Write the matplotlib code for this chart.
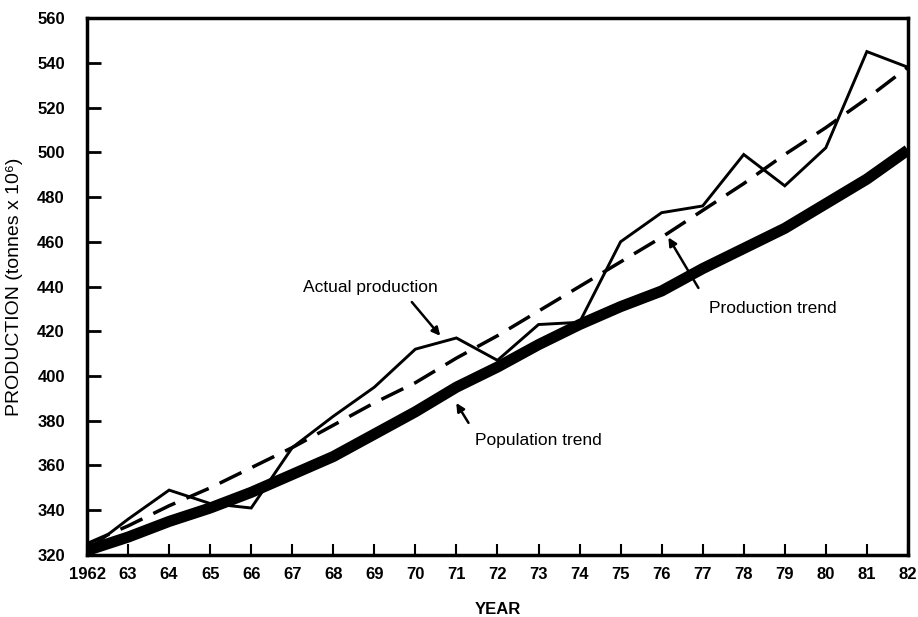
import matplotlib
matplotlib.use("Agg")
import matplotlib.pyplot as plt

plt.rcParams['font.family'] = ['Liberation Sans', 'DejaVu Sans']

years = list(range(1962, 1983))
year_labels = ["1962"] + [str(y)[2:] for y in years[1:]]

actual = [322, 336, 349, 343, 341, 368, 382, 395, 412, 417, 407,
          423, 424, 460, 473, 476, 499, 485, 502, 545, 538]
prod_trend = [325, 333, 342, 350, 359, 368, 378, 388, 397, 408, 418,
              429, 440, 451, 462, 474, 486, 499, 511, 524, 538]
pop_trend = [322, 328, 335, 341, 348, 356, 364, 374, 384, 395, 404,
             414, 423, 431, 438, 448, 457, 466, 477, 488, 501]

y_ticks = list(range(320, 561, 20))

fig = plt.figure(figsize=(9.18, 6.17), dpi=100)
ax = fig.add_axes([0.0948, 0.1005, 0.8942, 0.8703])

ax.plot(years, pop_trend, color='black', lw=8, solid_capstyle='butt', solid_joinstyle='round')
ax.plot(years, prod_trend, color='black', lw=2.5, dashes=(7, 3.5))
ax.plot(years, actual, color='black', lw=2.1, solid_joinstyle='miter')

ax.set_xlim(1962, 1982)
ax.set_ylim(320, 560)
ax.set_xticks(years)
ax.set_xticklabels(year_labels, fontsize=12, fontweight='bold')
ax.set_yticks(y_ticks)
ax.set_yticklabels([str(v) for v in y_ticks], fontsize=12, fontweight='bold')
ax.tick_params(axis='y', direction='in', length=10, width=2, pad=16)
ax.tick_params(axis='x', direction='in', length=8, width=1.5, pad=9)
for s in ax.spines.values():
    s.set_linewidth(2.5)

ax.set_xlabel("YEAR", fontsize=12, fontweight='bold', labelpad=14)
ax.set_ylabel("PRODUCTION (tonnes x 10⁶)", fontsize=14, labelpad=10)

arrow = dict(arrowstyle='-|>', color='black', lw=1.8, mutation_scale=12)
ax.text(1968.9, 439.6, "Actual production", fontsize=12.5, ha='center', va='center')
ax.annotate("", xy=(1970.65, 417), xytext=(1969.87, 434), arrowprops=arrow)

ax.text(1972.99, 371.3, "Population trend", fontsize=12.5, ha='center', va='center')
ax.annotate("", xy=(1970.96, 389), xytext=(1971.33, 378), arrowprops=arrow)

ax.text(1978.7, 430.3, "Production trend", fontsize=12.5, ha='center', va='center')
ax.annotate("", xy=(1976.13, 463), xytext=(1976.93, 438.3), arrowprops=arrow)

fig.savefig("out.png", dpi=100)
